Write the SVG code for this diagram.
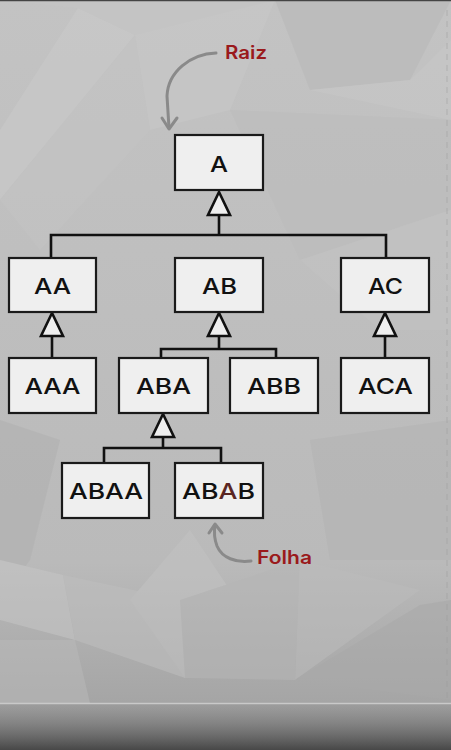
<svg xmlns="http://www.w3.org/2000/svg" width="451" height="750" viewBox="0 0 451 750">
  <defs>
    <linearGradient id="bg" x1="0" y1="0" x2="0" y2="1">
      <stop offset="0" stop-color="#c3c3c3"/>
      <stop offset="0.75" stop-color="#bababa"/>
      <stop offset="0.93" stop-color="#a6a6a6"/>
      <stop offset="1" stop-color="#9c9c9c"/>
    </linearGradient>
    <linearGradient id="foot" x1="0" y1="0" x2="0" y2="1">
      <stop offset="0" stop-color="#8e8e8e" stop-opacity="0.3"/>
      <stop offset="1" stop-color="#3e3e3e" stop-opacity="0.9"/>
    </linearGradient>
  </defs>
  <style>
    .box { fill: #efefef; stroke: #1a1a1a; stroke-width: 2.2; }
    .lbl { font-family: Inter, "Open Sans", "Liberation Sans", sans-serif; font-weight: 500; font-size: 22px; fill: #111; text-anchor: middle; }
    .wire { fill: none; stroke: #111; stroke-width: 2.6; }
    .head { fill: #efefef; stroke: #111; stroke-width: 2.6; stroke-linejoin: miter; }
    .note { font-family: Inter, "Open Sans", "Liberation Sans", sans-serif; font-weight: 600; font-size: 18px; fill: #9a1a1c; }
    .hint { fill: none; stroke: #8a8a8a; stroke-width: 3; stroke-linecap: round; stroke-linejoin: round; }
  </style>

  <!-- low-poly backdrop -->
  <rect x="0" y="0" width="451" height="750" fill="url(#bg)"/>
  <g id="backdrop" stroke="none" opacity="0.55">
    <polygon points="0,130 78,8 135,35 0,200" fill="#cbcbcb"/>
    <polygon points="78,8 135,35 275,0 0,0" fill="#c6c6c6"/>
    <polygon points="135,35 275,0 230,110 150,130" fill="#c9c9c9"/>
    <polygon points="275,0 451,0 410,80 310,90" fill="#b8b8b8"/>
    <polygon points="310,90 410,80 451,40 451,120" fill="#c8c8c8"/>
    <polygon points="0,200 135,35 150,130 40,250" fill="#c4c4c4"/>
    <polygon points="230,110 451,120 451,210 300,260" fill="#bcbcbc"/>
    <polygon points="300,260 451,210 451,330 380,330" fill="#c3c3c3"/>
    <polygon points="0,420 60,440 30,560 0,600" fill="#b0b0b0"/>
    <polygon points="0,560 63,575 75,640 0,620" fill="#c6c6c6"/>
    <polygon points="63,575 180,600 185,678 75,640" fill="#bfbfbf"/>
    <polygon points="130,600 190,530 250,620 185,678" fill="#c3c3c3"/>
    <polygon points="180,600 300,560 295,680 185,678" fill="#b6b6b6"/>
    <polygon points="300,560 420,590 295,680" fill="#bcbcbc"/>
    <polygon points="295,680 420,605 451,600 451,700" fill="#a9a9a9"/>
    <polygon points="310,440 451,420 451,560 330,560" fill="#b3b3b3"/>
    <polygon points="0,640 75,640 90,703 0,703" fill="#b9b9b9"/>
  </g>
  <rect x="0" y="703" width="451" height="47" fill="url(#foot)"/>
  <line x1="0" y1="703.5" x2="451" y2="703.5" stroke="#d4d4d4" stroke-width="1.5" opacity="0.8"/>
  <line x1="0" y1="0.5" x2="451" y2="0.5" stroke="#444" stroke-width="1.5"/>
  <line x1="447" y1="10" x2="447" y2="700" stroke="#9c9c9c" stroke-width="1" stroke-dasharray="6 5" opacity="0.5"/>

  <!-- inheritance connectors -->
  <g id="connectors">
    <path class="wire" d="M219,215 V235 M51,258 V235 H386 V258"/>
    <polygon class="head" points="219,192 208,215 230,215"/>
    <path class="wire" d="M52,336 V358"/>
    <polygon class="head" points="52,313 41,336 63,336"/>
    <path class="wire" d="M219,336 V349 M161,358 V349 H276 V358"/>
    <polygon class="head" points="219,313 208,336 230,336"/>
    <path class="wire" d="M385,336 V358"/>
    <polygon class="head" points="385,313 374,336 396,336"/>
    <path class="wire" d="M163,437 V448 M104,463 V448 H221 V463"/>
    <polygon class="head" points="163,414 152,437 174,437"/>
  </g>

  <!-- nodes -->
  <g id="node-A"><rect class="box" x="175" y="135" width="88" height="55"/><text class="lbl" x="219" y="172" textLength="18" lengthAdjust="spacingAndGlyphs">A</text></g>
  <g id="node-AA"><rect class="box" x="9" y="258" width="87" height="54"/><text class="lbl" x="52.5" y="294" textLength="37" lengthAdjust="spacingAndGlyphs">AA</text></g>
  <g id="node-AB"><rect class="box" x="175" y="258" width="88" height="54"/><text class="lbl" x="219.5" y="294" textLength="35" lengthAdjust="spacingAndGlyphs">AB</text></g>
  <g id="node-AC"><rect class="box" x="341" y="258" width="88" height="54"/><text class="lbl" x="385.5" y="294" textLength="35" lengthAdjust="spacingAndGlyphs">AC</text></g>
  <g id="node-AAA"><rect class="box" x="9" y="358" width="87" height="55"/><text class="lbl" x="52.5" y="394" textLength="56" lengthAdjust="spacingAndGlyphs">AAA</text></g>
  <g id="node-ABA"><rect class="box" x="119" y="358" width="89" height="55"/><text class="lbl" x="163.5" y="394" textLength="55" lengthAdjust="spacingAndGlyphs">ABA</text></g>
  <g id="node-ABB"><rect class="box" x="230" y="358" width="88" height="55"/><text class="lbl" x="274" y="394" textLength="54" lengthAdjust="spacingAndGlyphs">ABB</text></g>
  <g id="node-ACA"><rect class="box" x="341" y="358" width="88" height="55"/><text class="lbl" x="385.5" y="394" textLength="55" lengthAdjust="spacingAndGlyphs">ACA</text></g>
  <g id="node-ABAA"><rect class="box" x="62" y="463" width="87" height="55"/><text class="lbl" x="106" y="498.5" textLength="74" lengthAdjust="spacingAndGlyphs">ABAA</text></g>
  <g id="node-ABAB"><rect class="box" x="175" y="463" width="88" height="55"/><text class="lbl" x="218.5" y="498.5" textLength="73" lengthAdjust="spacingAndGlyphs">AB<tspan fill="#5a2522">A</tspan>B</text></g>

  <!-- callouts -->
  <g id="label-raiz">
    <path class="hint" d="M216,53 C190,54 168,72 167,96 L169,128"/>
    <polyline class="hint" points="162,118 169,129 177,118"/>
    <text class="note" x="225" y="59" textLength="42" lengthAdjust="spacingAndGlyphs">Raiz</text>
  </g>
  <g id="label-folha">
    <path class="hint" d="M251,561 C236,563 222,558 217,546 C214,538 214,531 215,525"/>
    <polyline class="hint" points="209,533 215,524 222,533"/>
    <text class="note" x="257" y="564" textLength="55" lengthAdjust="spacingAndGlyphs">Folha</text>
  </g>
</svg>
